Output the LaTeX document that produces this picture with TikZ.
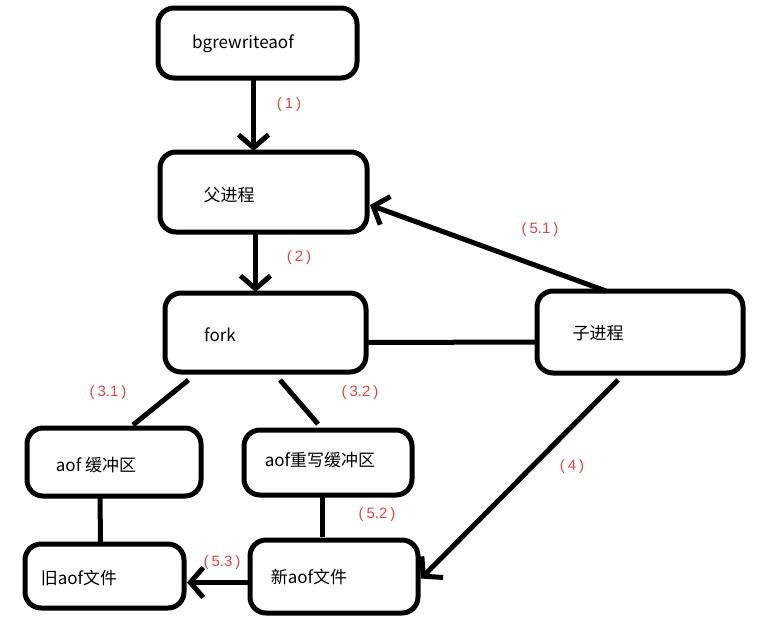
\documentclass[tikz,border=0pt]{standalone}
\usepackage{fontspec}
\setmainfont{Noto Sans CJK SC}
\newfontfamily\lblfont{Liberation Sans}
\usetikzlibrary{arrows.meta,calc}
\definecolor{lblred}{HTML}{E04444}
\newcommand{\plbl}[1]{(\kern3pt#1\kern3pt)}
\begin{document}
\begin{tikzpicture}[x=1pt,y=-1pt,
  box/.style={draw=black,line width=5pt,rounded corners=16pt,inner sep=0pt,outer sep=0pt,fill=white},
  txt/.style={font=\fontsize{17}{19}\selectfont,text=black,inner sep=0pt},
  lbl/.style={font=\lblfont\fontsize{15}{17}\selectfont,text=lblred,inner sep=0pt},
  conn/.style={line width=5pt,draw=black},
  arr/.style={conn,-{Straight Barb[length=13pt,width=30pt,line width=5pt]}}]
\useasboundingbox (0,0) rectangle (762,632);
\fill[white] (0,0) rectangle (762,632);
% boxes
\node[box,minimum width=199pt,minimum height=70pt] (b1) at (257.5,43) {};
\node[box,minimum width=207pt,minimum height=80pt] (b2) at (263.5,192) {};
\node[box,minimum width=201pt,minimum height=79pt] (fork) at (265.5,332.5) {};
\node[box,minimum width=206pt,minimum height=82pt] (child) at (640,332) {};
\node[box,minimum width=174pt,minimum height=68pt] (aofbuf) at (114,462) {};
\node[box,minimum width=168pt,minimum height=65pt] (rewbuf) at (328,462.5) {};
\node[box,minimum width=159pt,minimum height=64pt] (old) at (104.5,576) {};
\node[box,minimum width=168pt,minimum height=73pt] (new) at (334,576.5) {};
% texts
\node[txt] (t1) at (243,44) {bgrewriteaof};
\node[txt] (t2) at (229,195) {父进程};
\node[txt] (t3) at (220,335) {fork};
\node[txt] (t4) at (598,333) {子进程};
\node[txt] (t5) at (96,465) {aof 缓冲区};
\node[txt] (t6) at (320,460) {aof重写缓冲区};
\node[txt] (t7) at (79,578) {旧aof文件};
\node[txt] (t8) at (309,577) {新aof文件};
% connectors
\draw[arr] ($(b1.south)+(-4,2)$) -- ($(b2.north)+(-10,-1)$);
\draw[arr] ($(b2.south)+(-8,2)$) -- ($(fork.north)+(-10,-1)$);
\draw[arr] ($(child.north)+(-34,0)$) -- ($(b2.east)+(3,13)$);
\draw[conn] ($(fork.east)+(0,10)$) -- ($(child.west)+(0,10)$);
\draw[conn] ($(fork.south)+(-77,8)$) -- ($(aofbuf.north)+(19,-3)$);
\draw[conn] ($(fork.south)+(14.5,8)$) -- ($(rewbuf.north)+(-10,-6)$);
\draw[conn] ($(aofbuf.south)+(-14,0)$) -- ($(old.north)+(-4,-1)$);
\draw[conn] ($(rewbuf.south)+(-6,0)$) -- ($(new.north)+(-12,-3)$);
\draw[arr] ($(new.west)+(0,6)$) -- ($(old.east)+(3,6.5)$);
\draw[arr] ($(child.south)+(-22,7)$) -- ($(new.east)+(3,2)$);
% labels
\node[lbl] (l1) at (289,105) {\plbl{1}};
\node[lbl] (l2) at (299,258) {\plbl{2}};
\node[lbl] (l51) at (540,230) {\plbl{5.1}};
\node[lbl] (l31) at (108,393) {\plbl{3.1}};
\node[lbl] (l32) at (360,393) {\plbl{3.2}};
\node[lbl] (l52) at (377,515) {\plbl{5.2}};
\node[lbl] (l53) at (222,563) {\plbl{5.3}};
\node[lbl] (l4) at (572,467) {\plbl{4}};
\end{tikzpicture}
\end{document}
